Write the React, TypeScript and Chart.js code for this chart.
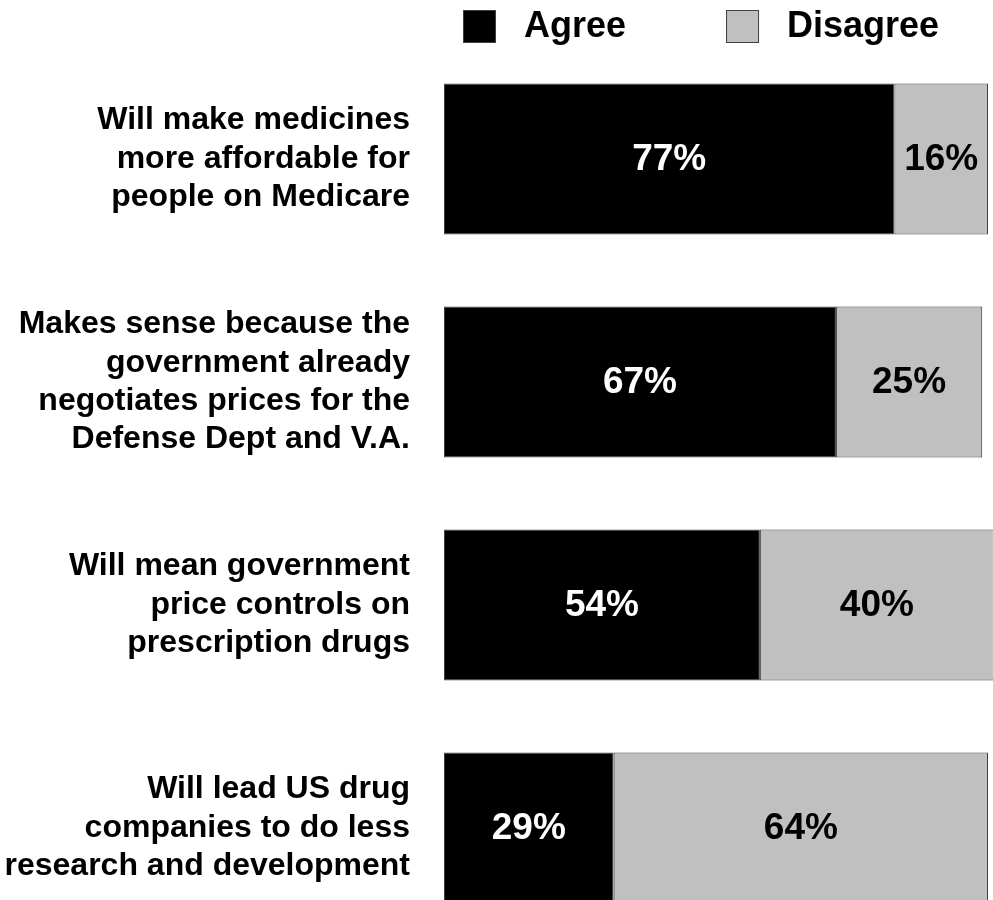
import React, { useEffect, useRef } from "react";
import { Chart, registerables } from "chart.js";

Chart.register(...registerables);

const categories: string[][] = [
  ["Will make medicines", "more affordable for", "people on Medicare"],
  ["Makes sense because the", "government already", "negotiates prices for the", "Defense Dept and V.A."],
  ["Will mean government", "price controls on", "prescription drugs"],
  ["Will lead US drug", "companies to do less", "research and development"],
];
const seriesNames = ["Agree", "Disagree"];
const agree = [77, 67, 54, 29];
const disagree = [16, 25, 40, 64];
const seriesColors = ["#000000", "#c0c0c0"];
const valueLabelColors = ["#ffffff", "#000000"];

const FONT = 'Arial, "Liberation Sans", Helvetica, sans-serif';

const valueLabelPlugin = {
  id: "valueLabels",
  afterDatasetsDraw(chart: any) {
    const ctx = chart.ctx;
    ctx.save();
    ctx.font = `bold 37px ${FONT}`;
    ctx.textAlign = "center";
    ctx.textBaseline = "middle";
    chart.data.datasets.forEach((ds: any, di: number) => {
      const meta = chart.getDatasetMeta(di);
      meta.data.forEach((el: any, i: number) => {
        const { x, base, y } = el.getProps(["x", "base", "y"], true);
        ctx.fillStyle = valueLabelColors[di];
        ctx.fillText(`${ds.data[i]}%`, (x + base) / 2, y + 1);
      });
    });
    ctx.restore();
  },
};

const legendPlugin = {
  id: "customLegend",
  afterDraw(chart: any) {
    const ctx = chart.ctx;
    ctx.save();
    ctx.font = `bold 36px ${FONT}`;
    ctx.textAlign = "left";
    ctx.textBaseline = "middle";
    let x = 463;
    const boxW = 33;
    const boxH = 33;
    const top = 10;
    chart.data.datasets.forEach((ds: any) => {
      ctx.fillStyle = ds.backgroundColor;
      ctx.fillRect(x, top, boxW, boxH);
      ctx.strokeStyle = "#404040";
      ctx.lineWidth = 1;
      ctx.strokeRect(x + 0.5, top + 0.5, boxW - 1, boxH - 1);
      ctx.fillStyle = "#000000";
      const tx = x + boxW + 28;
      ctx.fillText(ds.label, tx, top + boxH / 2 + 1);
      x = tx + ctx.measureText(ds.label).width + 100;
    });
    ctx.restore();
  },
};

export default function App() {
  const canvasRef = useRef<HTMLCanvasElement | null>(null);

  useEffect(() => {
    if (!canvasRef.current) return;
    const chart = new Chart(canvasRef.current, {
      type: "bar",
      data: {
        labels: categories,
        datasets: [agree, disagree].map((vals, i) => ({
          label: seriesNames[i],
          data: vals,
          backgroundColor: seriesColors[i],
          borderColor: "#404040",
          borderWidth: 1,
          borderSkipped: false,
          barPercentage: 0.677,
          categoryPercentage: 1,
        })),
      },
      options: {
        indexAxis: "y",
        animation: false,
        responsive: true,
        maintainAspectRatio: false,
        layout: { padding: { top: 47.5, bottom: 0.5, left: 0, right: 0 } },
        plugins: {
          legend: { display: false },
          tooltip: { enabled: false },
        },
        scales: {
          x: {
            type: "linear",
            stacked: true,
            min: 0,
            max: 93.85,
            display: false,
          },
          y: {
            type: "category",
            stacked: true,
            grid: { display: false, drawTicks: false },
            border: { display: false },
            ticks: {
              color: "#000000",
              padding: 34,
              font: { family: FONT, size: 32, weight: "bold", lineHeight: 1.2 },
            },
            afterFit(scale: any) {
              scale.width = 444;
              scale.paddingTop = 0;
              scale.paddingBottom = 0;
            },
          },
        },
      },
      plugins: [valueLabelPlugin, legendPlugin],
    } as any);
    return () => chart.destroy();
  }, []);

  return (
    <div style={{ position: "absolute", left: 0, top: 0, width: 993, height: 900, overflow: "hidden", background: "#ffffff" }}>
      <div style={{ position: "relative", width: 993, height: 940 }}>
        <canvas ref={canvasRef} />
      </div>
    </div>
  );
}
